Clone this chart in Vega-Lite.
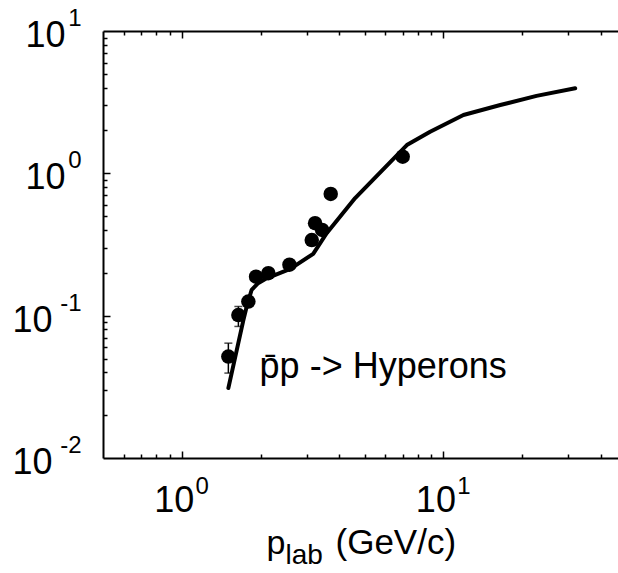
{
  "$schema": "https://vega.github.io/schema/vega-lite/v6.json",
  "width": 515,
  "height": 427,
  "autosize": {"type": "none"},
  "padding": {"left": 103, "top": 31, "right": 0, "bottom": 115},
  "background": "white",
  "config": {
    "view": {"stroke": null},
    "font": "Liberation Sans",
    "axis": {
      "grid": false,
      "domainColor": "black",
      "domainWidth": 2,
      "tickColor": "black",
      "tickWidth": 1.5,
      "labelColor": "black",
      "titleColor": "black",
      "labelFont": "Liberation Sans",
      "titleFont": "Liberation Sans",
      "titleFontWeight": "normal",
      "labelFlush": false,
      "labelOverlap": false,
      "labelBound": false
    }
  },
  "datasets": {
    "theory": [
      {"x": 1.507, "y": 0.031},
      {"x": 1.72, "y": 0.093},
      {"x": 1.771, "y": 0.116},
      {"x": 1.85, "y": 0.152},
      {"x": 1.95, "y": 0.168},
      {"x": 2.11, "y": 0.183},
      {"x": 2.6, "y": 0.213},
      {"x": 3.18, "y": 0.272},
      {"x": 3.58, "y": 0.38},
      {"x": 4.6, "y": 0.67},
      {"x": 7.25, "y": 1.58},
      {"x": 8.9, "y": 1.96},
      {"x": 11.93, "y": 2.57},
      {"x": 16.5, "y": 3.02},
      {"x": 22.7, "y": 3.5},
      {"x": 31.9, "y": 3.96}
    ],
    "points": [
      {"x": 1.507, "y": 0.0516},
      {"x": 1.646, "y": 0.101},
      {"x": 1.797, "y": 0.1256},
      {"x": 1.923, "y": 0.188},
      {"x": 2.143, "y": 0.199},
      {"x": 2.58, "y": 0.228},
      {"x": 3.14, "y": 0.34},
      {"x": 3.233, "y": 0.446},
      {"x": 3.44, "y": 0.40},
      {"x": 3.71, "y": 0.716},
      {"x": 6.99, "y": 1.31}
    ],
    "errors": [
      {"x": 1.507, "lo": 0.0395, "hi": 0.0641},
      {"x": 1.646, "lo": 0.084, "hi": 0.116}
    ],
    "caps": [
      {"x": 1.507, "y": 0.0641},
      {"x": 1.507, "y": 0.0395},
      {"x": 1.646, "y": 0.116},
      {"x": 1.646, "y": 0.084}
    ],
    "labels": [
      {"x": 1.984, "y": 0.0364, "label": "p\u0304p -> Hyperons"}
    ]
  },
  "resolve": {"axis": {"x": "independent", "y": "independent"}},
  "layer": [
    {
      "data": {"name": "theory"},
      "mark": {"type": "line", "color": "black", "strokeWidth": 4, "strokeJoin": "round", "strokeCap": "round"},
      "encoding": {
        "x": {
          "field": "x", "type": "quantitative",
          "scale": {"type": "log", "domain": [0.5, 46.5], "nice": false},
          "axis": {
            "orient": "bottom", "values": [1, 10], "ticks": false, "domain": true,
            "labelExpr": "'10'", "labelFontSize": 36, "labelPadding": 53,
            "labelBaseline": "alphabetic", "labelAlign": "center", "labelOffset": -8,
            "title": "p", "titleFontSize": 34, "titleX": 163, "titleY": 95,
            "titleAlign": "left", "titleBaseline": "alphabetic"
          }
        },
        "y": {
          "field": "y", "type": "quantitative",
          "scale": {"type": "log", "domain": [0.01, 10], "nice": false},
          "axis": {
            "orient": "left", "values": [0.01, 0.1, 1, 10], "ticks": false, "domain": true,
            "labelExpr": "'10'", "labelFontSize": 36,
            "labelPadding": {"condition": {"test": "datum.value < 0.5", "value": 51}, "value": 38},
            "labelAlign": "right", "labelBaseline": "alphabetic", "labelOffset": 15.5,
            "title": null
          }
        }
      }
    },
    {
      "data": {"name": "errors"},
      "mark": {"type": "rule", "color": "black", "strokeWidth": 1.5},
      "encoding": {
        "x": {
          "field": "x", "type": "quantitative",
          "scale": {"type": "log", "domain": [0.5, 46.5], "nice": false},
          "axis": {
            "orient": "bottom", "values": [1, 10], "ticks": false, "domain": false,
            "labelExpr": "'' + round(log(datum.value)/LN10)", "labelFontSize": 24, "labelPadding": 35,
            "labelBaseline": "alphabetic", "labelAlign": "center", "labelOffset": 20,
            "title": "lab", "titleFontSize": 28, "titleX": 182, "titleY": 105,
            "titleAlign": "left", "titleBaseline": "alphabetic"
          }
        },
        "y": {
          "field": "lo", "type": "quantitative",
          "scale": {"type": "log", "domain": [0.01, 10], "nice": false},
          "axis": {
            "orient": "left", "values": [0.01, 0.1, 1, 10], "ticks": false, "domain": false,
            "labelExpr": "'' + round(log(datum.value)/LN10)", "labelFontSize": 24, "labelPadding": 22,
            "labelAlign": "right", "labelBaseline": "alphabetic", "labelOffset": -5.5,
            "title": null
          }
        },
        "y2": {"field": "hi"}
      }
    },
    {
      "data": {"name": "caps"},
      "mark": {"type": "tick", "color": "black", "orient": "horizontal", "size": 8, "thickness": 1.5},
      "encoding": {
        "x": {
          "field": "x", "type": "quantitative",
          "scale": {"type": "log", "domain": [0.5, 46.5], "nice": false},
          "axis": {
            "orient": "bottom",
            "values": [0.6, 0.7, 0.8, 0.9, 1, 2, 3, 4, 5, 6, 7, 8, 9, 10, 20, 30, 40],
            "labels": false, "domain": false,
            "tickSize": {"condition": {"test": "datum.value == 1 || datum.value == 10", "value": -7}, "value": -4},
            "title": "(GeV/c)", "titleFontSize": 35, "titleX": 232, "titleY": 95,
            "titleAlign": "left", "titleBaseline": "alphabetic"
          }
        },
        "y": {
          "field": "y", "type": "quantitative",
          "scale": {"type": "log", "domain": [0.01, 10], "nice": false},
          "axis": {
            "orient": "left",
            "values": [0.02, 0.03, 0.04, 0.05, 0.06, 0.07, 0.08, 0.09, 0.1, 0.2, 0.3, 0.4, 0.5, 0.6, 0.7, 0.8, 0.9, 1, 2, 3, 4, 5, 6, 7, 8, 9],
            "labels": false, "domain": false,
            "tickSize": {"condition": {"test": "datum.value == 0.1 || datum.value == 1", "value": -7}, "value": -4},
            "title": null
          }
        }
      }
    },
    {
      "data": {"name": "points"},
      "mark": {"type": "point", "shape": "circle", "filled": true, "color": "black", "opacity": 1, "size": 210},
      "encoding": {
        "x": {
          "field": "x", "type": "quantitative",
          "scale": {"type": "log", "domain": [0.5, 46.5], "nice": false},
          "axis": {
            "orient": "top",
            "values": [0.6, 0.7, 0.8, 0.9, 1, 2, 3, 4, 5, 6, 7, 8, 9, 10, 20, 30, 40],
            "labels": false, "domain": true,
            "tickSize": {"condition": {"test": "datum.value == 1 || datum.value == 10", "value": -7}, "value": -4},
            "title": null
          }
        },
        "y": {
          "field": "y", "type": "quantitative",
          "scale": {"type": "log", "domain": [0.01, 10], "nice": false},
          "axis": null
        }
      }
    },
    {
      "data": {"name": "labels"},
      "mark": {"type": "text", "align": "left", "baseline": "alphabetic", "fontSize": 36, "font": "Liberation Sans", "color": "black"},
      "encoding": {
        "x": {
          "field": "x", "type": "quantitative",
          "scale": {"type": "log", "domain": [0.5, 46.5], "nice": false},
          "axis": null
        },
        "y": {
          "field": "y", "type": "quantitative",
          "scale": {"type": "log", "domain": [0.01, 10], "nice": false},
          "axis": null
        },
        "text": {"field": "label"}
      }
    }
  ]
}
